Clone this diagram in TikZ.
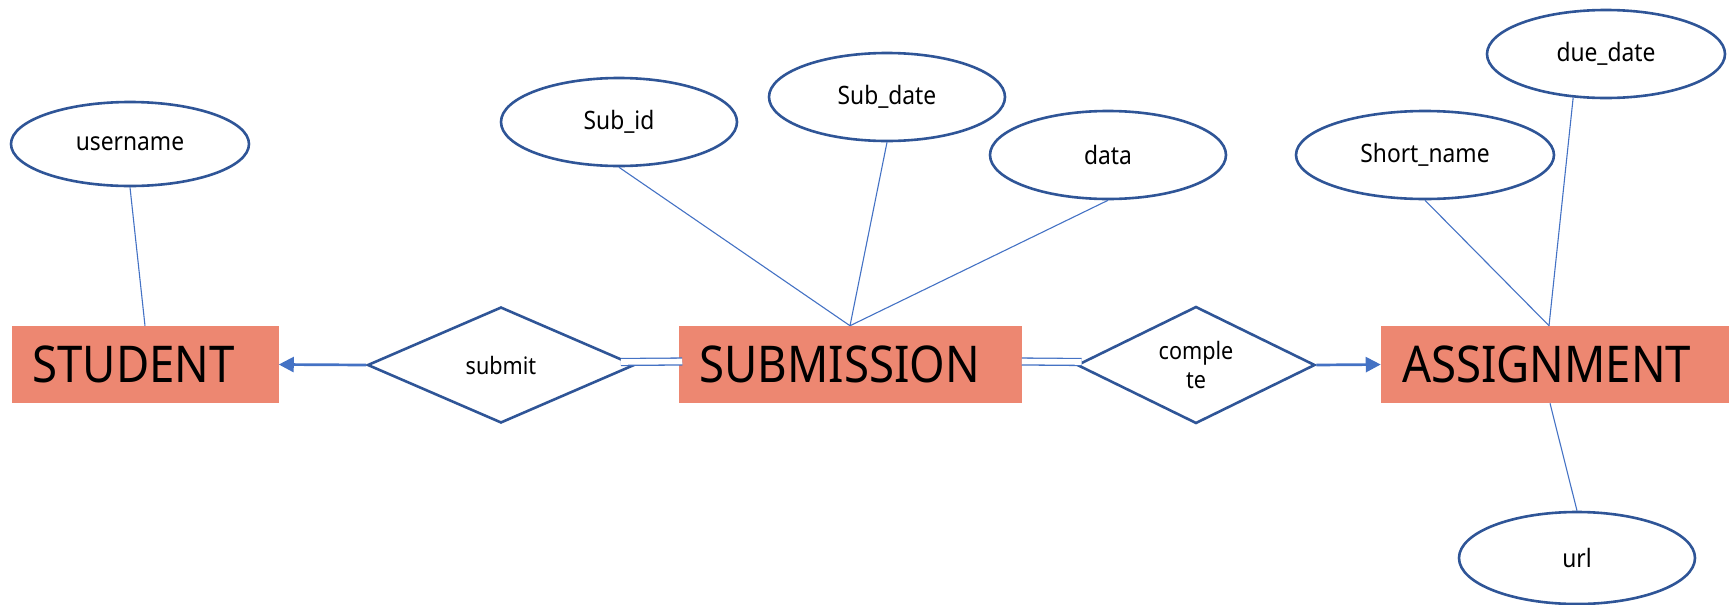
\documentclass[tikz,border=0pt]{standalone}
\usepackage{fontspec}
\setmainfont{Noto Sans}[FakeStretch=0.9]
\usetikzlibrary{shapes.geometric,arrows.meta}
\newdimen\px \px=0.75pt
\definecolor{entfill}{HTML}{ED8771}
\definecolor{rim}{HTML}{2F5597}
\definecolor{link}{HTML}{4472C4}

\begin{document}
\begin{tikzpicture}[x=0.75pt,y=-0.75pt,
  attr/.style={ellipse, draw=rim, line width=2.6\px, fill=white, inner sep=0pt,
    font=\fontsize{19}{22}\selectfont},
  entity/.style={rectangle, fill=entfill, inner xsep=21\px, inner ysep=0pt,
    minimum height=77\px, align=left, font=\fontsize{38}{44}\selectfont},
  rel/.style={diamond, draw=rim, line width=2.6\px, fill=white, inner sep=0pt,
    aspect=2.2, align=center, font=\fontsize{18}{21.5}\selectfont},
  attrline/.style={draw=link, line width=1.1\px},
  relarrow/.style={draw=link, line width=2.7\px,
    -{Triangle[length=11.25pt, width=11.25pt]}},
  dbl/.style={draw=link, double=white, double distance=5.6\px, line width=1.3\px}]

\useasboundingbox (0,0) rectangle (1732,604);

% entities
\node[entity, text width=225\px] (student) at (145,364.5) {STUDENT};
\node[entity, text width=301\px] (submission) at (850,364.5) {SUBMISSION};
\node[entity, text width=306\px] (assignment) at (1555,364.5) {ASSIGNMENT};

% relationships
\node[rel, minimum width=267\px, minimum height=116\px] (submit) at (501,365) {submit};
\node[rel, minimum width=238\px, minimum height=117\px] (complete) at (1196,365) {comple\\te};

% attributes
\node[attr, minimum width=238\px, minimum height=84\px] (username) at (130,144) {username};
\node[attr, minimum width=236\px, minimum height=88\px] (subid) at (619,122) {Sub\_id};
\node[attr, minimum width=236\px, minimum height=88\px] (subdate) at (887,97) {Sub\_date};
\node[attr, minimum width=236\px, minimum height=88\px] (data) at (1108,155) {data};
\node[attr, minimum width=258\px, minimum height=88\px] (shortname) at (1425,155) {Short\_name};
\node[attr, minimum width=238\px, minimum height=88\px] (duedate) at (1606,54) {due\_date};
\node[attr, minimum width=236\px, minimum height=92\px] (url) at (1577,558) {url};

% attribute links
\draw[attrline] (username.south) -- (student.north);
\draw[attrline] (subid.south) -- (submission.north);
\draw[attrline] (subdate.south) -- (submission.north);
\draw[attrline] (data.south) -- (submission.north);
\draw[attrline] (shortname.south) -- ([xshift=-6\px]assignment.north);
\draw[attrline] (duedate.233) -- ([xshift=-6\px]assignment.north);
\draw[attrline] (url.north) -- ([xshift=-5\px]assignment.south);

% relationship links
\draw[relarrow] (submit.west) -- (student.east);
\draw[relarrow] (complete.east) -- (assignment.west);
\draw[dbl] ([xshift=-15\px,yshift=3\px]submit.east) -- ([xshift=4\px,yshift=3\px]submission.west);
\draw[dbl] ([yshift=3\px]submission.east) -- ([xshift=6\px,yshift=3\px]complete.west);
\end{tikzpicture}
\end{document}
